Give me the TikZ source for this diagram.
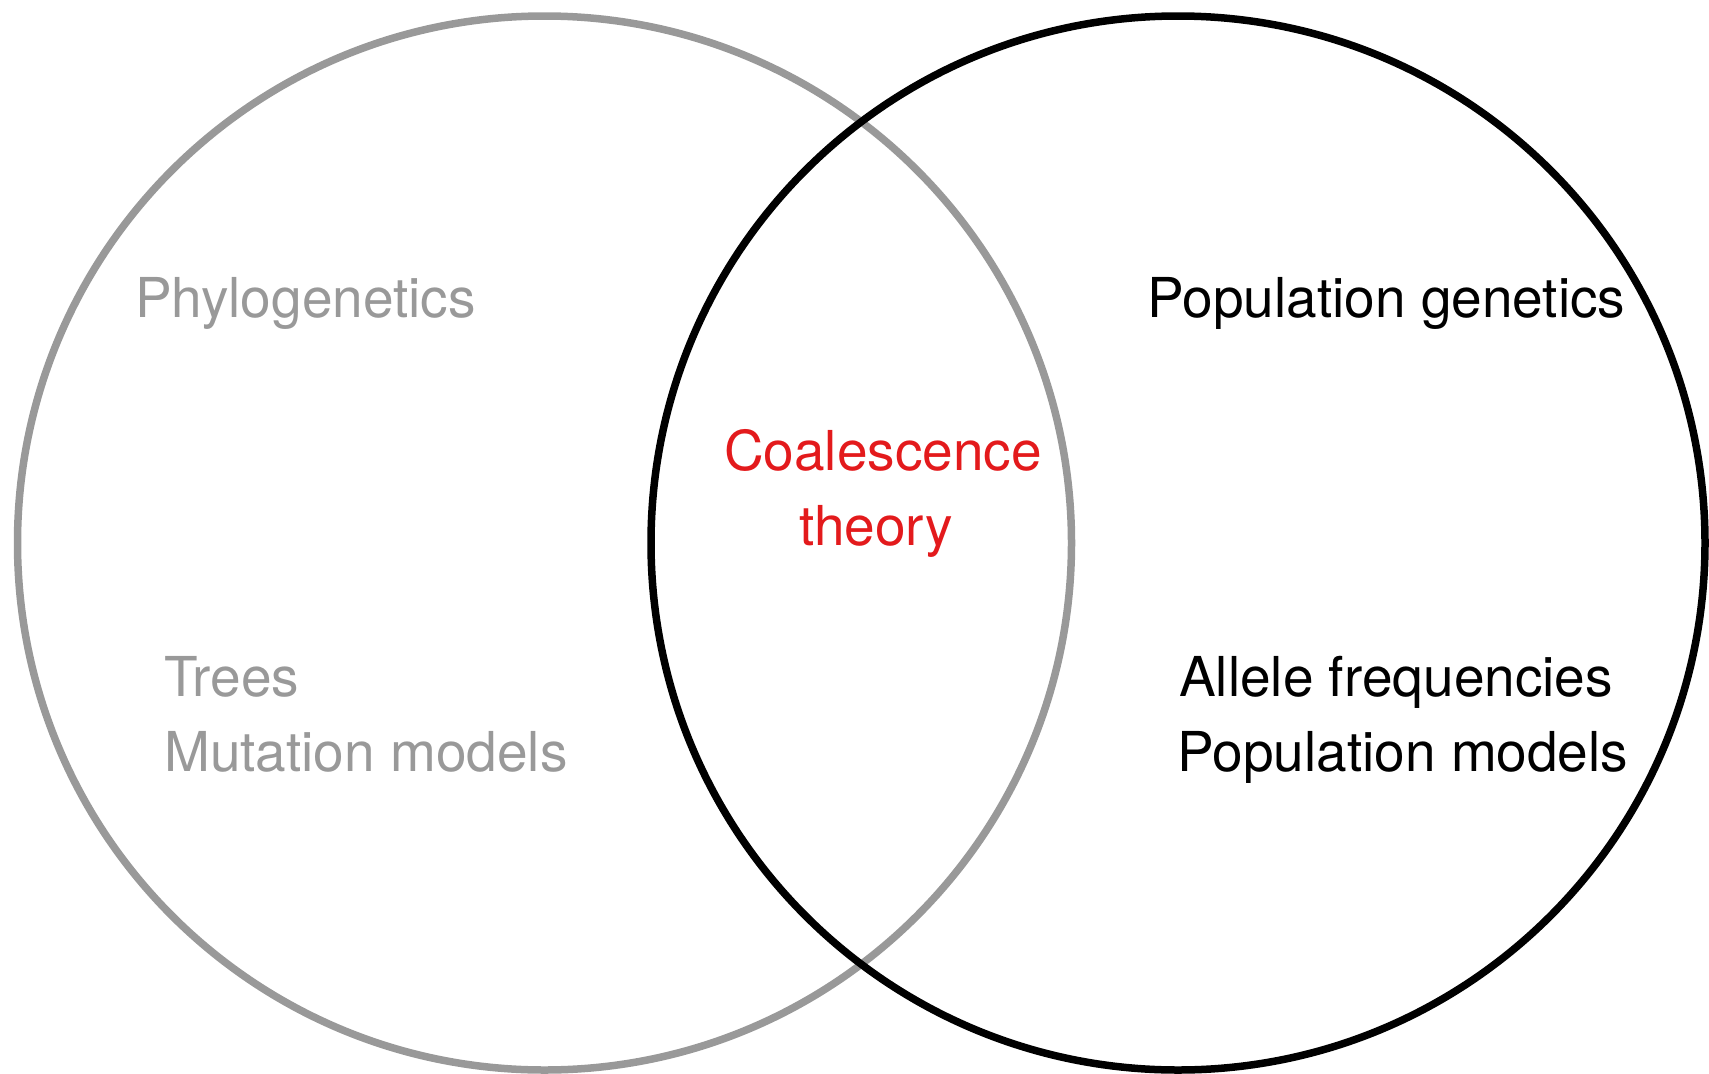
\documentclass[tikz,border=0pt]{standalone}
\usepackage{fontspec}
\setmainfont{TeX Gyre Heros}
\definecolor{phylogray}{RGB}{153,153,153}
\definecolor{coalred}{RGB}{227,26,28}
\begin{document}
\begin{tikzpicture}[x=1pt,y=-1pt,
  ring/.style={line width=7.5pt},
  label/.style={inner sep=0pt,font=\fontsize{55}{66}\selectfont},
  leftlabel/.style={label,anchor=base west}]
  \useasboundingbox (0,0) rectangle (1709,1074);
  % the two overlapping fields
  \coordinate (phylo) at (544.5,543);
  \coordinate (popgen) at (1178,543);
  \draw[ring,phylogray] (phylo) circle[radius=527];
  \draw[ring,black] (popgen) circle[radius=527];
  % left field
  \node[leftlabel,text=phylogray] (phylotitle) at (135,317) {Phylogenetics};
  \node[leftlabel,text=phylogray] (trees) at (164,696) {Trees};
  \node[leftlabel,text=phylogray] (mutation) at (164,771) {Mutation models};
  % right field
  \node[leftlabel] (popgentitle) at (1147,317) {Population genetics};
  \node[leftlabel] (allele) at (1179,696) {Allele frequencies};
  \node[leftlabel] (popmodels) at (1177,771) {Population models};
  % overlap
  \node[label,anchor=base,text=coalred] (coal) at (883,470) {Coalescence};
  \node[label,anchor=base,text=coalred] (theory) at (876,545) {theory};
\end{tikzpicture}
\end{document}
